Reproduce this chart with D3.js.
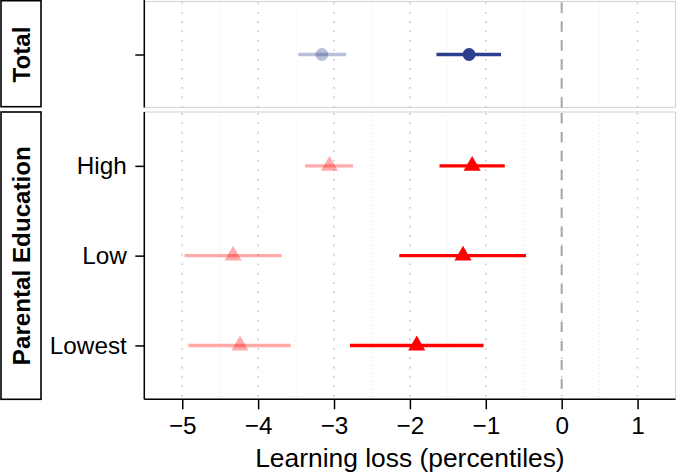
<!DOCTYPE html>
<html>
<head>
<meta charset="utf-8">
<script src="https://cdn.jsdelivr.net/npm/d3@7"></script>
<style>
  html, body { margin: 0; padding: 0; background: #fff; }
  svg { display: block; font-family: "Liberation Sans", Arial, Helvetica, sans-serif; }
</style>
</head>
<body>
<svg id="chart" width="678" height="474"></svg>
<script>
// ---- data ----
const totalCategories = ["Total"];
const eduCategories = ["High", "Low", "Lowest"];
const xTicks = [-5, -4, -3, -2, -1, 0, 1];
const xMinorTicks = [-5.5, -4.5, -3.5, -2.5, -1.5, -0.5, 0.5, 1.5];

// light series (faded) and dark series
const totalLightEst = [-3.16];
const totalLightLo  = [-3.47];
const totalLightHi  = [-2.84];
const totalDarkEst  = [-1.22];
const totalDarkLo   = [-1.65];
const totalDarkHi   = [-0.80];

const eduLightEst = [-3.06, -4.33, -4.24];
const eduLightLo  = [-3.38, -4.97, -4.92];
const eduLightHi  = [-2.75, -3.69, -3.57];
const eduDarkEst  = [-1.18, -1.30, -1.91];
const eduDarkLo   = [-1.61, -2.14, -2.79];
const eduDarkHi   = [-0.75, -0.47, -1.03];

const stripLabels = ["Total", "Parental Education"];
const xTitle = "Learning loss (percentiles)";

// ---- layout ----
const svg = d3.select("#chart");
const left = 144.3, right = 675.5;
const panels = [
  { top: 1.5, bottom: 107.5, cats: totalCategories, shape: "circle", color: "#2c3e8c",
    light: { est: totalLightEst, lo: totalLightLo, hi: totalLightHi },
    dark:  { est: totalDarkEst,  lo: totalDarkLo,  hi: totalDarkHi }, strip: stripLabels[0] },
  { top: 112, bottom: 399.3, cats: eduCategories, shape: "triangle", color: "#ff0000",
    light: { est: eduLightEst, lo: eduLightLo, hi: eduLightHi },
    dark:  { est: eduDarkEst,  lo: eduDarkLo,  hi: eduDarkHi }, strip: stripLabels[1] }
];

const x = d3.scaleLinear().domain([-5.5, 1.5]).range([left, right]);
const fontTick = 24.3;

panels.forEach((p, pi) => {
  const y = d3.scalePoint().domain(p.cats).range([p.top, p.bottom])
    .padding(p.cats.length === 1 ? 0.5 : 0.6);
  const g = svg.append("g");

  // panel border
  g.append("rect").attr("x", left).attr("y", p.top)
    .attr("width", right - left).attr("height", p.bottom - p.top)
    .attr("fill", "#fff").attr("stroke", "#d6d6d6").attr("stroke-width", 1.2);

  // minor grid
  g.selectAll(".minor").data(xMinorTicks.filter(v => x(v) > left + 1 && x(v) < right - 1)).join("line")
    .attr("x1", d => x(d)).attr("x2", d => x(d))
    .attr("y1", p.top).attr("y2", p.bottom)
    .attr("stroke", "#d4d4d4").attr("stroke-width", 0.7).attr("stroke-dasharray", "1,3");
  // major grid
  g.selectAll(".major").data(xTicks).join("line")
    .attr("x1", d => x(d)).attr("x2", d => x(d))
    .attr("y1", p.top + 1).attr("y2", p.bottom)
    .attr("stroke", "#c6c6c6").attr("stroke-width", 1.6).attr("stroke-dasharray", "1.6,7.8");
  // zero line
  g.append("line").attr("x1", x(0)).attr("x2", x(0))
    .attr("y1", p.top + 1).attr("y2", p.bottom)
    .attr("stroke", "#a6a6a6").attr("stroke-width", 2).attr("stroke-dasharray", "10,9");

  // points
  ["light", "dark"].forEach(key => {
    const s = p[key];
    const op = key === "light" ? 0.33 : 1;
    const rows = p.cats.map((c, i) => ({ c, est: s.est[i], lo: s.lo[i], hi: s.hi[i] }));
    g.selectAll(".bar-" + key).data(rows).join("line")
      .attr("x1", d => x(d.lo)).attr("x2", d => x(d.hi))
      .attr("y1", d => y(d.c)).attr("y2", d => y(d.c))
      .attr("stroke", p.color).attr("stroke-width", 3.4).attr("stroke-opacity", op);
    if (p.shape === "circle") {
      g.selectAll(".pt-" + key).data(rows).join("circle")
        .attr("cx", d => x(d.est)).attr("cy", d => y(d.c)).attr("r", 6.4)
        .attr("fill", p.color).attr("fill-opacity", op);
    } else {
      const tri = d3.symbol().type(d3.symbolTriangle).size(128);
      g.selectAll(".pt-" + key).data(rows).join("path")
        .attr("d", tri)
        .attr("transform", d => `translate(${x(d.est)},${y(d.c)})`)
        .attr("fill", p.color).attr("fill-opacity", op);
    }
  });

  // left axis
  const ay = g.append("g").attr("transform", `translate(${left},0)`)
    .call(d3.axisLeft(y).tickSize(9).tickSizeOuter(0).tickPadding(8.5));
  ay.select(".domain").attr("stroke", "#000").attr("stroke-width", 1.5)
    .attr("d", `M0,${p.top - (pi === 0 ? 1.5 : 0)}V${p.bottom}`);
  ay.selectAll(".tick line").attr("stroke", "#000").attr("stroke-width", 1.5);
  ay.selectAll(".tick text").attr("font-size", fontTick).attr("fill", "#000")
    .attr("font-family", "Liberation Sans, Arial, sans-serif");
  if (pi === 0) ay.selectAll(".tick text").remove();

  // strip
  const sg = g.append("g");
  sg.append("rect").attr("x", 1).attr("y", p.top - (pi === 0 ? 0.8 : 0))
    .attr("width", 40).attr("height", p.bottom - p.top)
    .attr("fill", "#fff").attr("stroke", "#000").attr("stroke-width", 1.6);
  sg.append("text")
    .attr("transform", `translate(${21 + 8.7},${(p.top + p.bottom) / 2}) rotate(-90)`)
    .attr("text-anchor", "middle").attr("font-weight", "bold").attr("font-size", 24.2)
    .attr("fill", "#000")
    .text(p.strip);

  if (pi === 1) {
    const ax = g.append("g").attr("transform", `translate(0,${p.bottom})`)
      .call(d3.axisBottom(x).tickValues(xTicks).tickSize(10).tickSizeOuter(0).tickPadding(7)
        .tickFormat(d => d3.format("d")(d).replace("-", "\u2212")));
    ax.select(".domain").attr("stroke", "#000").attr("stroke-width", 1.5)
      .attr("d", `M${left},0H${right}`);
    ax.selectAll(".tick line").attr("stroke", "#000").attr("stroke-width", 1.5);
    ax.selectAll(".tick text").attr("font-size", fontTick).attr("fill", "#000")
      .attr("font-family", "Liberation Sans, Arial, sans-serif");
  }
});

svg.append("text").attr("x", (left + right) / 2).attr("y", 467)
  .attr("text-anchor", "middle").attr("font-size", 26.4).attr("fill", "#000")
  .text(xTitle);
</script>
</body>
</html>
